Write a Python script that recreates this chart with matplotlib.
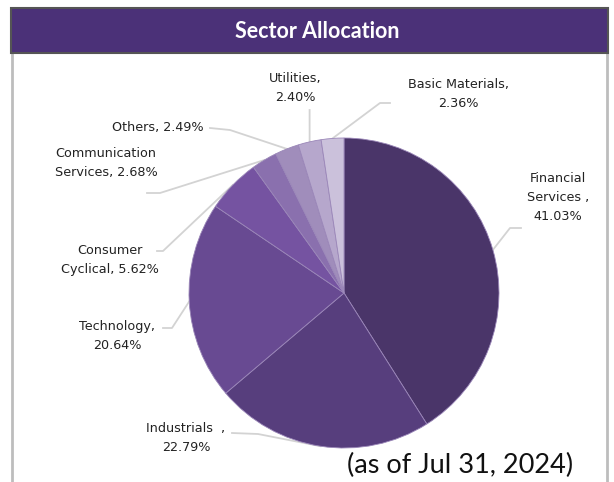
import numpy as np
import matplotlib.pyplot as plt
from matplotlib.patches import Rectangle

# data
sectors = ['Financial Services', 'Industrials', 'Technology', 'Consumer Cyclical',
           'Communication Services', 'Others', 'Utilities', 'Basic Materials']
weights = [41.03, 22.79, 20.64, 5.62, 2.68, 2.49, 2.40, 2.36]
labels = ['Financial\nServices ,\n41.03%', 'Industrials  ,\n22.79%', 'Technology,\n20.64%',
          'Consumer\nCyclical, 5.62%', 'Communication\nServices, 2.68%', 'Others, 2.49%',
          'Utilities,\n2.40%', 'Basic Materials,\n2.36%']
colors = ['#4a3569', '#573e7d', '#684a92', '#7553a1', '#8a70ae', '#a08dbb', '#b6a7cc', '#cbc1db']

W, H = 614, 482
fig = plt.figure(figsize=(W / 100, H / 100), dpi=100)
ax = fig.add_axes([0, 0, 1, 1])

def py(y):
    # pixel row -> data y
    return H - y

cx, cy, r = 344, 293, 155
wedges, _ = ax.pie(weights, colors=colors, startangle=90, counterclock=False,
                   center=(cx, py(cy)), radius=r, frame=True,
                   wedgeprops=dict(linewidth=0.6, edgecolor='#9a86b8'))

# label layout: text position and leader elbow (pixels)
text_pos = [(558, 197), (186, 438), (117, 336), (110, 260), (106, 163), (158, 127), (295, 88), (458, 94)]
elbows = [[(521, 228), (510, 228)], [(232, 433), (258, 434)], [(163, 328), (172, 328)],
          [(157, 251), (163, 251)], [(147, 193), (160, 193)], [(210, 128), (230, 130)],
          [(309.6, 110)], [(390, 103), (380, 103)]]

for w, lab, tp, el in zip(wedges, labels, text_pos, elbows):
    a = np.deg2rad((w.theta1 + w.theta2) / 2)
    ex, ey = cx + r * np.cos(a), py(cy) + r * np.sin(a)
    xs = [p[0] for p in el] + [ex]
    ys = [py(p[1]) for p in el] + [ey]
    ax.plot(xs, ys, color='#d3d3d3', lw=1.3, zorder=0)
    ax.text(tp[0], py(tp[1]), lab, ha='center', va='center', fontsize=9.2,
            family='DejaVu Sans', color='#222222', linespacing=1.6)

# header band and frame
ax.add_patch(Rectangle((11, py(53)), 597, 45, facecolor='#4b3178', edgecolor='#555555', lw=1.5, zorder=3))
ax.plot([12, 12], [0, py(53)], color='#bdbdbd', lw=2)
ax.plot([607, 607], [0, py(53)], color='#bdbdbd', lw=2)
ax.text(317, py(31), 'Sector Allocation', ha='center', va='center', color='white',
        fontsize=15.5, fontweight='bold', family='Lato', zorder=4)
ax.text(573, py(465), '(as of Jul 31, 2024)', ha='right', va='center', fontsize=19.5,
        family='Lato', color='#111111')

ax.set_xlim(0, W)
ax.set_ylim(0, H)
ax.set_aspect('equal')
ax.axis('off')

plt.savefig('out.png', dpi=100)
